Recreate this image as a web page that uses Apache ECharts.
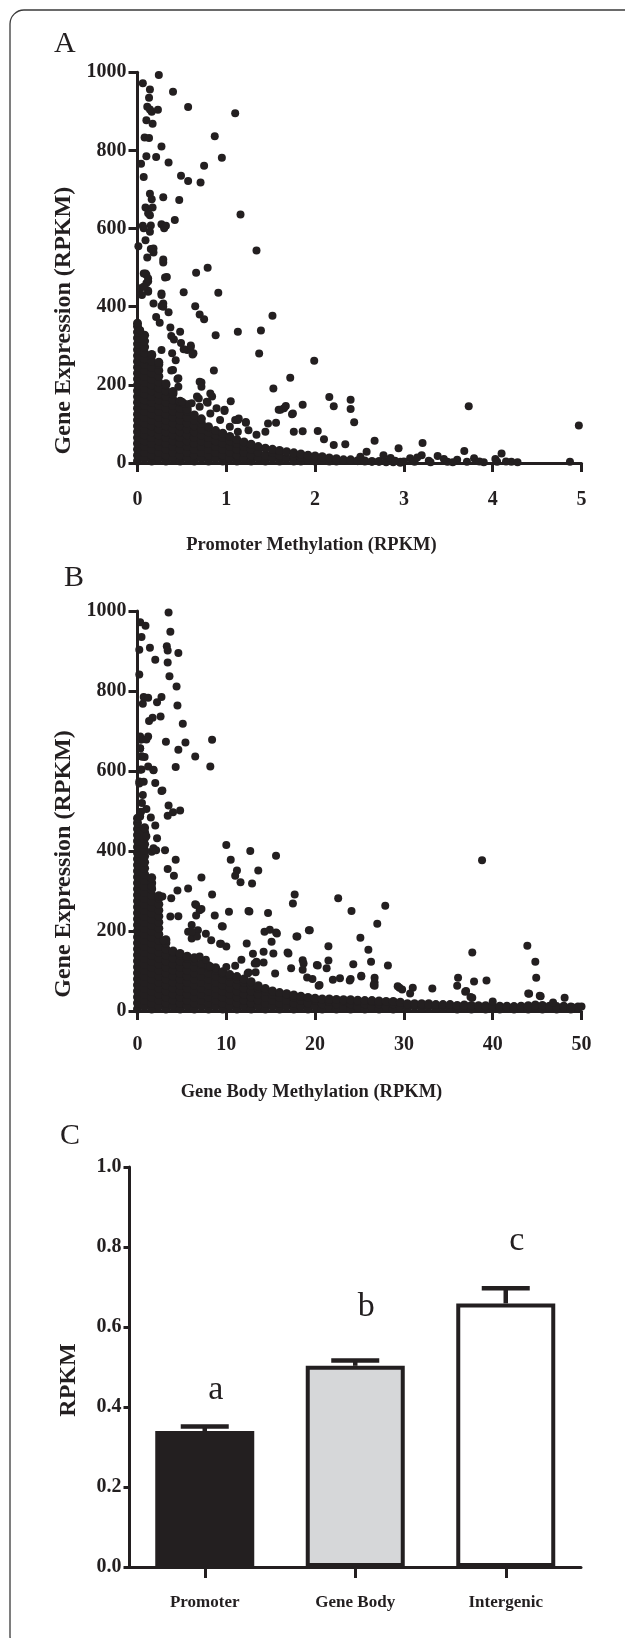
<!DOCTYPE html>
<html><head><meta charset="utf-8">
<script src="https://cdn.jsdelivr.net/npm/echarts@6/dist/echarts.min.js"></script>
<style>html,body{margin:0;padding:0;background:#fff}#c{width:625px;height:1638px}</style>
</head><body><div id="c"></div>
<script>
// ---------- data ----------
const aXTicks = [0, 1, 2, 3, 4, 5];
const bXTicks = [0, 10, 20, 30, 40, 50];
const exprTicks = [0, 200, 400, 600, 800, 1000];
const cYTicks = [0.0, 0.2, 0.4, 0.6, 0.8, 1.0];

const categories = ['Promoter', 'Gene Body', 'Intergenic'];
const barMeans = [0.340, 0.503, 0.659];
const barSEM = [0.011, 0.013, 0.038];
const groupLetters = ['a', 'b', 'c'];
const letterLevels = [0.417, 0.626, 0.789];

// Panel A: promoter methylation vs expression (individually readable points)
const aSparse = [
[0.24,993],[0.06,972],[0.14,956],[0.40,950],[0.13,935],[0.57,911],[0.11,912],[0.16,899],[0.23,904],[0.14,905],[1.10,895],
[0.10,877],[0.17,868],[0.08,833],[0.13,832],[0.87,836],[0.27,810],[0.10,785],[0.21,783],[0.95,781],[0.35,769],[0.75,761],
[0.04,766],[0.07,732],[0.49,735],[0.57,722],[0.71,718],[0.14,689],[0.16,675],[0.29,680],[0.47,673],[0.09,654],[0.17,654],
[0.14,634],[0.12,639],[1.16,636],[0.42,622],[0.27,611],[0.15,608],[0.30,601],[0.07,601],[0.06,607],[0.32,607],[0.14,592],
[0.01,555],[0.09,570],[0.15,548],[0.18,549],[0.18,539],[1.34,544],[0.11,526],[0.29,521],[0.29,513],[0.79,500],[0.66,487],
[0.10,482],[0.31,475],[0.12,465],[0.07,485],[0.10,460],[0.03,447],[0.12,438],[0.27,434],[0.33,476],[0.52,437],[0.91,436],
[0.12,441],[0.27,430],[0.65,401],[0.27,402],[1.52,377],[0.70,380],[0.75,368],[0.35,386],[1.39,339],[1.13,336],[0.88,327],
[0.48,336],[0.41,316],[0.37,347],[0.56,289],[0.63,281],[1.37,280],[0.52,291],[0.60,297],[0.62,278],[0.27,289],[0.18,408],
[0.29,408],[0.21,374],[0.25,359],[0.39,281],[0.03,340],[1.99,262],[1.72,218],[0.86,237],[0.72,206],[0.40,238],[0.46,217],
[0.38,325],[0.49,307],[0.43,263],[0.38,237],[0.45,215],[0.05,430],[0.09,485],[0.12,472],[0.07,451],[0.29,400],[0.60,301],
[0.46,195],[0.70,208],[0.72,195],[1.53,191],[2.16,169],[2.40,162],[2.21,145],[2.40,138],[3.73,145],[1.86,149],[1.05,158],
[0.52,153],[0.61,153],[0.69,165],[0.79,154],[0.84,170],[0.89,140],[0.98,133],[2.44,104],[4.97,96],[1.75,127],[1.65,140],
[0.82,178],[0.67,170],[0.50,157],[0.58,151],[0.70,144],[0.78,157],[0.98,136],[1.14,114],[1.22,105],
[1.59,136],[1.61,136],[1.67,146],[1.74,125],[1.10,110],[0.93,110],[1.13,110],[1.22,103],[1.47,101],[1.56,103],[0.82,127],
[2.03,82],[1.76,80],[1.86,81],[1.13,80],[1.25,84],[1.34,72],[1.44,80],[1.04,93],[2.10,61],[2.21,46],[2.34,48],[2.67,57],
[3.21,51],[2.94,38],[3.68,31],[4.10,24],[2.58,29],[2.77,20],[2.85,13],[2.51,16],[3.07,12],[3.20,20],[3.38,18],[3.49,3],
[3.60,8],[3.79,12],[4.03,10],[4.21,3],[4.28,2],[3.90,2],[4.87,3],[3.71,3],[4.05,3],[3.00,4],[3.12,3],[3.28,6],[3.45,10],
[3.55,2],[3.30,2],[3.15,14],[2.90,6],[3.85,4],[4.15,4]
];
// Panel A: dense core, estimated per x-column (x, expression values)
const aCore = [
[0.00,[5,20,35,50,65,80,95,110,125,140,155,170,185,200,215,230,245,260,275,290,305,320,335,350,358]],
[0.08,[12,27,42,57,72,87,102,117,132,147,162,177,192,207,222,237,252,267,282,297,312,327]],
[0.16,[5,20,35,50,65,80,95,110,125,140,155,170,185,200,215,230,245,260,275,278]],
[0.24,[12,27,42,57,72,87,102,117,132,147,162,177,192,207,222,237,252,258]],
[0.32,[5,20,35,50,65,80,95,110,125,140,155,170,185,200,203]],
[0.40,[12,27,42,57,72,87,102,117,132,147,162,177,183]],
[0.48,[5,20,35,50,65,80,95,110,125,140,155,158]],
[0.56,[12,27,42,57,72,87,102,117,132,138]],
[0.64,[5,20,35,50,65,80,95,110,123]],
[0.72,[12,27,42,57,72,87,102,113]],
[0.80,[5,20,35,50,65,80,93]],
[0.88,[12,27,42,57,72,83]],
[0.96,[5,20,35,50,65,76]],
[1.04,[12,27,42,57,68]],
[1.12,[5,20,35,50,60]],
[1.20,[12,27,42,54]],
[1.28,[5,20,35,48]],
[1.36,[12,27,42]],
[1.44,[5,20,38]],
[1.52,[12,27,35]],
[1.60,[5,20,32]],
[1.68,[12,29]],
[1.76,[5,18,26]],
[1.84,[5,15,23]],
[1.92,[8,20]],
[2.00,[5,18]],
[2.08,[8,16]],
[2.16,[5,13]],
[2.24,[5,11]],
[2.32,[8]],[2.40,[8]],[2.48,[6]],[2.56,[5]],[2.64,[4]],[2.72,[4]],[2.80,[3]],[2.88,[3]],[2.96,[2]]
];

// Panel B: gene body methylation vs expression (individually readable points)
const bSparse = [
[3.5,996],[0.3,972],[0.9,963],[0.45,935],[3.7,948],[3.3,912],[1.4,908],[0.2,903],[3.4,901],[4.6,895],[2.0,878],[3.4,871],
[0.2,841],[3.6,837],[4.4,811],[0.7,785],[1.2,783],[2.7,785],[2.2,772],[4.5,764],[0.6,768],[2.6,736],[1.7,733],[1.3,725],
[5.1,718],[0.45,679],[1.2,686],[3.2,673],[5.4,671],[8.4,678],[6.5,636],[4.6,653],[0.3,656],[0.8,635],[0.5,636],[8.2,611],
[4.3,610],[1.8,602],[0.45,604],[2.0,570],[2.7,550],[2.8,551],[0.6,540],[0.2,574],[3.5,514],[4.8,501],[4.0,497],[3.4,488],
[1.5,484],[0.3,486],[2.0,464],[2.2,432],[1.0,437],[10.0,415],[3.1,402],[12.7,400],[1.6,398],[1.8,407],[2.1,402],[4.3,378],
[10.5,378],[15.6,388],[38.8,377],[11.2,351],[13.6,351],[11.0,338],[11.6,322],[12.9,319],[3.4,355],[7.2,334],[4.1,338],
[4.5,301],[5.7,306],[8.4,291],[17.7,291],[22.6,282],[17.5,269],[27.9,263],[6.5,267],[6.6,265],[7.0,252],[7.2,255],
[10.3,248],[12.6,249],[12.5,250],[14.7,245],[24.1,250],[8.7,239],[6.6,239],[27.0,218],[9.5,212],[9.6,211],[14.3,198],
[14.9,203],[15.6,196],[15.7,194],[19.3,202],[19.4,202],[17.9,186],[18.0,186],[25.1,183],[7.7,193],[6.1,181],[12.3,169],
[43.9,163],[21.5,162],[9.4,168],[26.0,153],[37.7,146],[16.9,146],[28.2,114],[44.8,123],[20.3,114],[24.3,117],[26.3,123],
[18.6,127],[21.5,126],[13.4,123],[10.0,110],[13.3,97],[44.9,83],[36.1,83],[39.3,76],[37.9,74],[24.0,80],[22.8,82],
[25.2,86],[26.7,71],[26.7,63],[19.1,84],[19.7,80],[20.4,63],[36.0,63],[37.0,50],[37.7,33],[44.1,43],[29.5,58],[29.8,54],
[31.0,58],[33.2,56],[48.1,33],[40.0,24],[45.4,37],[46.8,21],[48.9,10],[50.0,11],[21.3,107],[26.6,65],[29.3,62],[30.7,44],
[23.9,76],[25.2,88],[26.7,83],[36.9,48],[37.5,35],[44.0,44],[45.3,38],[15.1,173],[4.6,237],[6.1,215],[5.7,198],[6.8,202],
[8.3,177],[6.7,186],[9.3,168],[10.0,161],[11.0,113],[11.7,128],[12.5,96],[13.2,119],[14.2,121],[15.3,144],[15.5,94],
[17.0,144],[17.3,107],[18.7,119],[18.6,103],[20.2,115],[20.5,65],[22.0,78],[13.0,143],[13.4,119],[12.4,94],[14.2,148],
[7.7,128],[7.0,136],[8.2,111],[0.3,679],[0.3,657],[0.3,603],[0.2,569],[0.5,520],[1.0,505],[0.4,498],
[6.1,198],[2.9,177],[3.7,236],[3.8,282],[2.8,286],[1.6,311],[0.3,686],[1.0,679],[0.5,636],[1.2,611],[0.7,573],[1.8,603]
];
// Panel B: dense core, estimated per x-column (x, expression values)
const bCore = [
[0.0,[5,20,35,50,65,80,95,110,125,140,155,170,185,200,215,230,245,260,275,290,305,320,335,350,365,380,395,410,425,440,455,470,482]],
[0.8,[12,27,42,57,72,87,102,117,132,147,162,177,192,207,222,237,252,267,282,297,312,327,342,357,372,387,402,417,432,447,458]],
[1.6,[5,20,35,50,65,80,95,110,125,140,155,170,185,200,215,230,245,260,275,290,305,320,333]],
[2.4,[12,27,42,57,72,87,102,117,132,147,162,177,192,207,222,237,252,267,282,288]],
[3.2,[5,20,35,50,65,80,95,110,125,140,155,170,178]],
[4.0,[12,27,42,57,72,87,102,117,132,147,150]],
[4.8,[5,20,35,50,65,80,95,110,125,140,144]],
[5.6,[12,27,42,57,72,87,102,117,132,137]],
[6.4,[5,20,35,50,65,80,95,110,125,133]],
[7.2,[12,27,42,57,72,87,102,117,119]],
[8.0,[5,20,35,50,65,80,95,110,113]],
[8.8,[12,27,42,57,72,87,102,108]],
[9.6,[5,20,35,50,65,80,95,98]],
[10.4,[12,27,42,57,72,87,91]],
[11.2,[5,20,35,50,65,80,86]],
[12.0,[12,27,42,57,72,80]],
[12.8,[5,20,35,50,65,73]],
[13.6,[12,27,42,57,63]],
[14.4,[5,20,35,50,56]],
[15.2,[12,27,42,50]],
[16.0,[5,20,35,46]],
[16.8,[12,27,42,43]],
[17.6,[5,20,35,40]],
[18.4,[12,27,37]],
[19.2,[5,20,34]],
[20.0,[12,27,32]],
[20.8,[5,18,30]],[21.6,[10,24,30]],[22.4,[5,18,29]],[23.2,[10,24,28]],[24.0,[5,18,28]],[24.8,[10,24,27]],
[25.6,[5,18,26]],[26.4,[10,24,26]],[27.2,[5,18,25]],[28.0,[10,24]],[28.8,[5,18,24]],[29.6,[10,22]],
[30.4,[6,18]],[31.2,[12,18]],[32.0,[6,18]],[32.8,[12,18]],[33.6,[6,16]],[34.4,[12,16]],[35.2,[6,16]],
[36.0,[5,14]],[36.8,[10,15]],[37.6,[5,14]],[38.4,[10,13]],[39.2,[5,13]],[40.0,[10,12]],[40.8,[5,12]],[41.6,[10,12]],
[42.4,[5,11]],[43.2,[10,12]],[44.0,[5,13]],[44.8,[10,15]],[45.6,[5,14]],[46.4,[10,12]],[47.2,[5,11]],[48.0,[10,12]],
[48.8,[5,10]],[49.6,[8,10]]
];

// ---------- chart ----------
const INK = '#231f20';
const SERIF = "'Liberation Serif', 'Times New Roman', serif";
const expand = cols => cols.flatMap(([x, ys]) => ys.map(y => [x, y]));
const barFills = [INK, '#d6d7d9', '#ffffff'];

const tickFont = { color: INK, fontFamily: SERIF, fontWeight: 'bold', fontSize: 20 };

function valueAxis(grid, ticks, extra) {
  return Object.assign({
    type: 'value', gridIndex: grid,
    min: ticks[0], max: ticks[ticks.length - 1], interval: ticks[1] - ticks[0],
    splitLine: { show: false },
    axisLine: { show: true, onZero: false, lineStyle: { color: INK, width: 3 } },
    axisTick: { show: true, length: 9, lineStyle: { color: INK, width: 3 } },
    nameLocation: 'middle'
  }, extra);
}

const xName = (text, gap) => ({
  name: text, nameGap: gap,
  nameTextStyle: { color: INK, fontFamily: SERIF, fontWeight: 'bold', fontSize: 18.5, padding: [0, 96, 0, 0] }
});
const yName = (text, gap, shift) => ({
  name: text, nameGap: gap,
  nameTextStyle: { color: INK, fontFamily: SERIF, fontWeight: 'bold', fontSize: 24, padding: [0, shift * 2, 0, 0] }
});
const scatterStyle = size => ({
  type: 'scatter', clip: false, silent: true, symbol: 'circle', symbolSize: size,
  itemStyle: { color: INK, opacity: 1 }
});

const chart = echarts.init(document.getElementById('c'), null, { renderer: 'canvas' });
chart.setOption({
  animation: false,
  backgroundColor: '#ffffff',
  grid: [
    { left: 137.5, top: 72.3, width: 444, height: 390.7 },
    { left: 137.5, top: 611, width: 444, height: 400 },
    { left: 129.5, top: 1167, width: 451.5, height: 400 }
  ],
  xAxis: [
    valueAxis(0, aXTicks, Object.assign(xName('Promoter Methylation (RPKM)', 73),
      { axisLabel: Object.assign({ margin: 27 }, tickFont) })),
    valueAxis(1, bXTicks, Object.assign(xName('Gene Body Methylation (RPKM)', 72),
      { axisLabel: Object.assign({ margin: 24 }, tickFont) })),
    {
      type: 'category', gridIndex: 2, data: categories, boundaryGap: true,
      axisLine: { show: true, lineStyle: { color: INK, width: 3 } },
      axisTick: { show: true, alignWithLabel: true, length: 11, lineStyle: { color: INK, width: 3 } },
      axisLabel: { color: INK, fontFamily: SERIF, fontWeight: 'bold', fontSize: 17, margin: 27 },
      splitLine: { show: false }
    }
  ],
  yAxis: [
    valueAxis(0, exprTicks, Object.assign(yName('Gene Expression (RPKM)', 54, 53),
      { axisLabel: Object.assign({ margin: 11, formatter: v => String(v) }, tickFont) })),
    valueAxis(1, exprTicks, Object.assign(yName('Gene Expression (RPKM)', 54, 53),
      { axisLabel: Object.assign({ margin: 11, formatter: v => String(v) }, tickFont) })),
    valueAxis(2, cYTicks, Object.assign(yName('RPKM', 49, 13), {
      axisTick: { show: true, length: 6, lineStyle: { color: INK, width: 3 } },
      axisLabel: Object.assign({ margin: 8, formatter: v => v.toFixed(1) }, tickFont) }))
  ],
  series: [
    Object.assign(scatterStyle(9), { xAxisIndex: 0, yAxisIndex: 0, data: expand(aCore) }),
    Object.assign(scatterStyle(8), { xAxisIndex: 0, yAxisIndex: 0, data: aSparse }),
    Object.assign(scatterStyle(9), { xAxisIndex: 1, yAxisIndex: 1, data: expand(bCore) }),
    Object.assign(scatterStyle(8), { xAxisIndex: 1, yAxisIndex: 1, data: bSparse }),
    {
      type: 'bar', xAxisIndex: 2, yAxisIndex: 2, barWidth: 99, silent: true,
      data: barMeans.map((v, i) => ({ value: v, itemStyle: { color: barFills[i], borderColor: INK, borderWidth: 4 } }))
    },
    {
      type: 'custom', xAxisIndex: 2, yAxisIndex: 2, silent: true, z: 5,
      data: barMeans.map((m, i) => [i, m, barSEM[i], letterLevels[i]]),
      renderItem: (params, api) => {
        const i = api.value(0), m = api.value(1), s = api.value(2), lv = api.value(3);
        const base = api.coord([i, m]);
        const top = api.coord([i, m + s]);
        const lp = api.coord([i, lv]);
        return {
          type: 'group',
          children: [
            { type: 'line', shape: { x1: top[0], y1: base[1], x2: top[0], y2: top[1] }, style: { stroke: INK, lineWidth: 4.5 } },
            { type: 'line', shape: { x1: top[0] - 24, y1: top[1], x2: top[0] + 24, y2: top[1] }, style: { stroke: INK, lineWidth: 4.5 } },
            { type: 'text', x: lp[0] + 11, y: lp[1] - 10,
              style: { text: groupLetters[params.dataIndex], fill: INK, font: "34px 'Liberation Serif'", align: 'center', verticalAlign: 'middle' } }
          ]
        };
      }
    }
  ],
  graphic: [
    { type: 'rect', shape: { x: 10, y: 10, width: 640, height: 1640, r: 14 }, style: { fill: 'none', stroke: '#3a3a3a', lineWidth: 1.3 }, silent: true },
    { type: 'text', x: 54, y: 44.5, style: { text: 'A', fill: INK, font: "30px 'Liberation Serif'", verticalAlign: 'middle' } },
    { type: 'text', x: 64, y: 578.5, style: { text: 'B', fill: INK, font: "30px 'Liberation Serif'", verticalAlign: 'middle' } },
    { type: 'text', x: 60, y: 1136.5, style: { text: 'C', fill: INK, font: "30px 'Liberation Serif'", verticalAlign: 'middle' } }
  ]
});
</script>
</body></html>
